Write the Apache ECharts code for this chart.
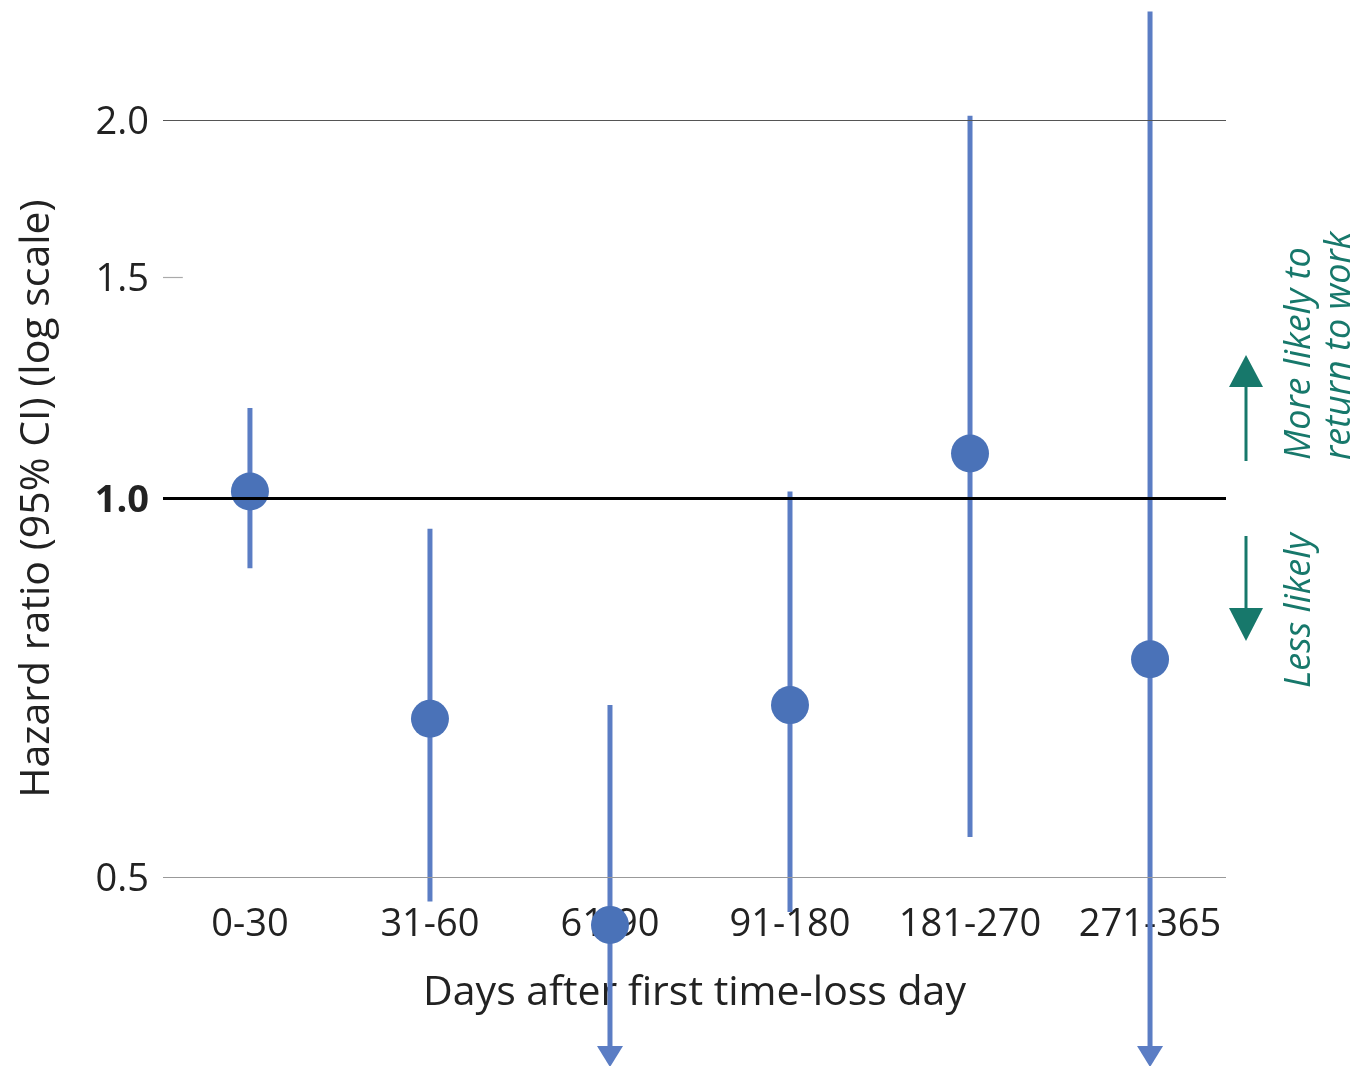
<!DOCTYPE html>
<html>
<head>
<meta charset="utf-8">
<script src="https://cdn.jsdelivr.net/npm/echarts@6/dist/echarts.min.js"></script>
<style>html,body{margin:0;padding:0;background:#fff;}#chart{width:1363px;height:1066px;}</style>
</head>
<body>
<div id="chart"></div>
<script>
// ---- data ----
const categories = ['0-30', '31-60', '61-90', '91-180', '181-270', '271-365'];
const hazardRatio = [1.013, 0.668, 0.458, 0.685, 1.086, 0.745];
const ciLow = [0.88, 0.478, 0.353, 0.469, 0.538, 0.353];
const ciHigh = [1.18, 0.946, 0.685, 1.013, 2.016, 2.44];
const lowTruncated = [false, false, true, false, false, true];
const yTickValues = [0.5, 1.0, 1.5, 2.0];
const yTickLabels = ['0.5', '1.0', '1.5', '2.0'];
const xTitle = 'Days after first time-loss day';
const yTitle = 'Hazard ratio (95% CI) (log scale)';
const noteUp = ['More likely to', 'return to work'];
const noteDown = 'Less likely';

const FONT = '"Open Sans", "Noto Sans", sans-serif';
const X_MIN = -0.483, X_MAX = 5.422;
const DOT = '#4a72b8', BAR = '#5b7dc4', TEAL = '#17786b';

const errData = categories.map((c, i) => [i, ciLow[i], ciHigh[i], lowTruncated[i] ? 1 : 0]);
const ptData = categories.map((c, i) => [i, hazardRatio[i]]);

const gridLines = yTickValues.map((v, i) => {
  const isRef = v === 1.0;
  const isShort = v === 1.5;
  const style = isRef ? {color: '#000', width: 3, type: 'solid'}
    : isShort ? {color: '#aaa', width: 1.2, type: 'solid'}
    : {color: v === 2.0 ? '#555' : '#999', width: 1.2, type: 'solid'};
  return [
    {coord: [X_MIN, v], lineStyle: style,
     label: {show: true, position: 'start', distance: 14, formatter: yTickLabels[i],
             fontFamily: FONT, fontSize: 38, color: '#222', fontWeight: isRef ? 'bold' : 'normal',
             offset: [0, 3]}},
    {coord: [isShort ? X_MIN + 0.11 : X_MAX, v]}
  ];
});

const chart = echarts.init(document.getElementById('chart'));
chart.setOption({
  animation: false,
  grid: {left: 163, right: 137, top: 120, bottom: 189},
  xAxis: {
    type: 'value', min: X_MIN, max: X_MAX,
    axisLine: {show: false}, axisTick: {show: false}, splitLine: {show: false},
    axisLabel: {
      margin: 29, fontFamily: FONT, fontSize: 38, color: '#222',
      showMinLabel: false, showMaxLabel: false,
      formatter: v => (Number.isInteger(v) && categories[v] !== undefined) ? categories[v] : ''
    },
    name: xTitle, nameLocation: 'middle', nameGap: 96,
    nameTextStyle: {fontFamily: FONT, fontSize: 41, color: '#222'}
  },
  yAxis: {
    type: 'log', logBase: 10, min: 0.5, max: 2.0,
    axisLine: {show: false}, axisTick: {show: false}, axisLabel: {show: false}, splitLine: {show: false},
    name: yTitle, nameLocation: 'middle', nameGap: 105,
    nameTextStyle: {fontFamily: FONT, fontSize: 41, color: '#222'}
  },
  series: [
    {
      type: 'scatter', data: [], z: 1, silent: true,
      markLine: {silent: true, symbol: ['none', 'none'], animation: false, data: gridLines}
    },
    {
      type: 'custom', z: 2, clip: false, silent: true,
      data: errData,
      renderItem: (params, api) => {
        const x = api.value(0);
        const lo = api.coord([x, api.value(1)]);
        const hi = api.coord([x, api.value(2)]);
        const trunc = api.value(3) === 1;
        const children = [{
          type: 'line',
          shape: {x1: hi[0], y1: hi[1], x2: lo[0], y2: trunc ? lo[1] - 12 : lo[1]},
          style: {stroke: BAR, lineWidth: 5}
        }];
        if (trunc) {
          children.push({
            type: 'polygon',
            shape: {points: [[lo[0], lo[1]], [lo[0] - 13, lo[1] - 21], [lo[0] + 13, lo[1] - 21]]},
            style: {fill: BAR}
          });
        }
        return {type: 'group', children};
      }
    },
    {
      type: 'scatter', z: 3, clip: false, silent: true,
      symbol: 'circle', symbolSize: 38,
      itemStyle: {color: DOT, opacity: 1},
      data: ptData
    }
  ],
  graphic: [
    {type: 'line', shape: {x1: 1246, y1: 461, x2: 1246, y2: 380}, style: {stroke: TEAL, lineWidth: 3}},
    {type: 'polygon', shape: {points: [[1246, 355], [1229, 387], [1263, 387]]}, style: {fill: TEAL}},
    {type: 'line', shape: {x1: 1246, y1: 536, x2: 1246, y2: 615}, style: {stroke: TEAL, lineWidth: 3}},
    {type: 'polygon', shape: {points: [[1246, 641], [1229, 608], [1263, 608]]}, style: {fill: TEAL}},
    {type: 'text', x: 1300, y: 460, rotation: Math.PI / 2,
     style: {text: noteUp[0], font: 'italic 36px ' + FONT, fill: TEAL, textAlign: 'left', textVerticalAlign: 'middle'}},
    {type: 'text', x: 1340, y: 460, rotation: Math.PI / 2,
     style: {text: noteUp[1], font: 'italic 36px ' + FONT, fill: TEAL, textAlign: 'left', textVerticalAlign: 'middle'}},
    {type: 'text', x: 1300, y: 688, rotation: Math.PI / 2,
     style: {text: noteDown, font: 'italic 36px ' + FONT, fill: TEAL, textAlign: 'left', textVerticalAlign: 'middle'}}
  ]
});
</script>
</body>
</html>
